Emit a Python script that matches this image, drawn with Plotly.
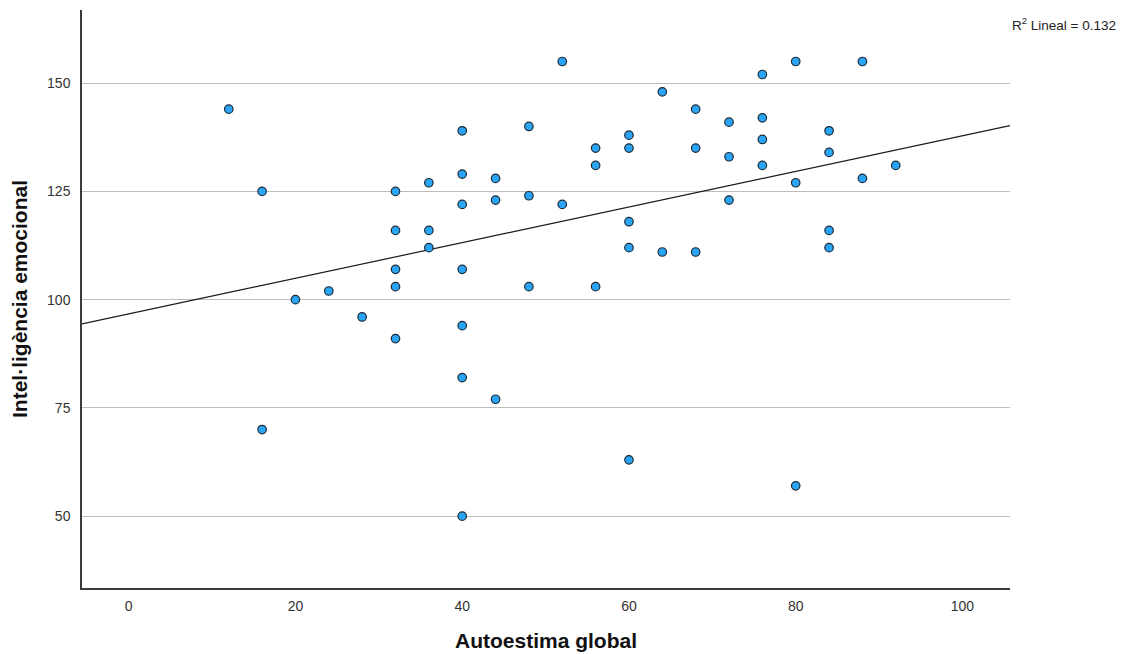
import numpy as np
import plotly.graph_objects as go

# Autoestima global (x) and Intel·ligència emocional (y)
autoestima = [12, 16, 16, 20, 24, 28, 32, 32, 32, 32, 32, 36, 36, 36,
              40, 40, 40, 40, 40, 40, 40, 44, 44, 44, 48, 48, 48, 52, 52,
              56, 56, 56, 60, 60, 60, 60, 60, 64, 64, 68, 68, 68,
              72, 72, 72, 76, 76, 76, 76, 80, 80, 80, 84, 84, 84, 84,
              88, 88, 92]
intel_emocional = [144, 125, 70, 100, 102, 96, 125, 116, 107, 103, 91, 127, 116, 112,
                   139, 129, 122, 107, 94, 82, 50, 128, 123, 77, 140, 124, 103, 155, 122,
                   135, 131, 103, 138, 135, 118, 112, 63, 148, 111, 144, 135, 111,
                   141, 133, 123, 152, 142, 137, 131, 155, 127, 57, 139, 134, 116, 112,
                   155, 128, 131]

x_range = [-5.6, 105.7]
y_range = [33.4, 166.9]
x_ticks = [0, 20, 40, 60, 80, 100]
y_ticks = [50, 75, 100, 125, 150]
r2_label = "R<sup>2</sup> Lineal = 0.132"

slope, intercept = np.polyfit(autoestima, intel_emocional, 1)
line_x = np.array(x_range)
line_y = intercept + slope * line_x

fig = go.Figure()
fig.add_trace(go.Scatter(
    x=line_x, y=line_y, mode="lines",
    line=dict(color="#1a1a1a", width=1.2),
    hoverinfo="skip", showlegend=False,
))
fig.add_trace(go.Scatter(
    x=autoestima, y=intel_emocional, mode="markers",
    marker=dict(size=8.5, color="#2aa4f4", line=dict(color="#1c2a36", width=1.2)),
    showlegend=False,
))

font_family = "Liberation Sans, Arial, sans-serif"
fig.update_layout(
    width=1130, height=654,
    margin=dict(l=82, r=120, t=10, b=66),
    paper_bgcolor="white", plot_bgcolor="white",
    font=dict(family=font_family, size=14, color="#333333"),
    xaxis=dict(
        range=x_range, tickvals=x_ticks, showgrid=False, zeroline=False,
        showline=True, linecolor="#3a3a3a", linewidth=1.5, ticks="",
        tickfont=dict(size=14, color="#333333"), ticklabelstandoff=4,
        title=dict(text="<b>Autoestima global</b>", font=dict(size=21, color="#111111"), standoff=21),
        automargin=False,
    ),
    yaxis=dict(
        range=y_range, tickvals=y_ticks, showgrid=True, gridcolor="#bdbdbd", gridwidth=1,
        zeroline=False, showline=True, linecolor="#3a3a3a", linewidth=1.5, ticks="",
        tickfont=dict(size=14, color="#333333"), ticklabelstandoff=7,
        title=dict(text="<b>Intel·ligència emocional</b>", font=dict(size=21, color="#111111"), standoff=14),
        automargin=False,
    ),
    annotations=[dict(
        text=r2_label, xref="paper", yref="paper", x=1.0, y=0.975,
        xanchor="left", yanchor="middle", showarrow=False, xshift=0,
        font=dict(size=13.5, color="#222222", family=font_family),
    )],
)

fig.write_html("out.html", config={"displayModeBar": False},
               post_script="document.body.style.margin='0';document.body.style.padding='0';")
